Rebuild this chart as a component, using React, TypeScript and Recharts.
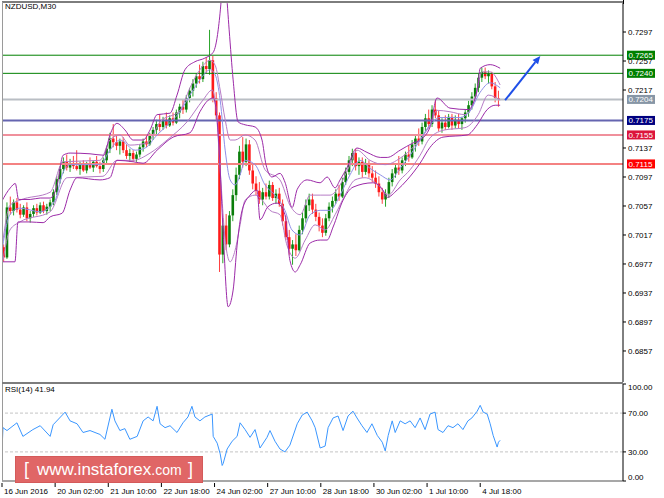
import { ComposedChart, Bar, Line, XAxis, YAxis, ReferenceLine } from "recharts";

// NZDUSD M30 candles, one slot each: [open, high, low, close]
const candles: [number, number, number, number][] = [
  [0.7000, 0.7004, 0.6980, 0.6986], [0.6986, 0.7062, 0.6984, 0.7055], [0.7055, 0.7070, 0.7045, 0.7050], [0.7050, 0.7066, 0.7044, 0.7062],
  [0.7062, 0.7068, 0.7048, 0.7052], [0.7052, 0.7060, 0.7040, 0.7045], [0.7045, 0.7058, 0.7042, 0.7055], [0.7055, 0.7062, 0.7036, 0.7040],
  [0.7040, 0.7050, 0.7034, 0.7046], [0.7046, 0.7058, 0.7042, 0.7054], [0.7054, 0.7060, 0.7044, 0.7048], [0.7048, 0.7062, 0.7046, 0.7058],
  [0.7058, 0.7063, 0.7047, 0.7050], [0.7050, 0.7060, 0.7045, 0.7056], [0.7056, 0.7066, 0.7050, 0.7062], [0.7062, 0.7080, 0.7058, 0.7076],
  [0.7076, 0.7098, 0.7072, 0.7094], [0.7094, 0.7112, 0.7088, 0.7108], [0.7108, 0.7124, 0.7102, 0.7118], [0.7118, 0.7128, 0.7106, 0.7110],
  [0.7110, 0.7122, 0.7104, 0.7116], [0.7116, 0.7126, 0.7108, 0.7112], [0.7112, 0.7134, 0.7106, 0.7108], [0.7108, 0.7118, 0.7100, 0.7114],
  [0.7114, 0.7120, 0.7104, 0.7106], [0.7106, 0.7118, 0.7102, 0.7115], [0.7115, 0.7124, 0.7108, 0.7110], [0.7110, 0.7120, 0.7104, 0.7118],
  [0.7118, 0.7126, 0.7110, 0.7112], [0.7112, 0.7118, 0.7102, 0.7108], [0.7108, 0.7124, 0.7104, 0.7120], [0.7120, 0.7140, 0.7116, 0.7136],
  [0.7136, 0.7158, 0.7130, 0.7150], [0.7150, 0.7170, 0.7138, 0.7145], [0.7145, 0.7156, 0.7134, 0.7140], [0.7140, 0.7150, 0.7128, 0.7146],
  [0.7146, 0.7152, 0.7130, 0.7134], [0.7134, 0.7142, 0.7122, 0.7126], [0.7126, 0.7136, 0.7118, 0.7130], [0.7130, 0.7134, 0.7118, 0.7122],
  [0.7122, 0.7132, 0.7118, 0.7128], [0.7128, 0.7142, 0.7124, 0.7138], [0.7138, 0.7150, 0.7132, 0.7146], [0.7146, 0.7156, 0.7138, 0.7142],
  [0.7142, 0.7158, 0.7140, 0.7154], [0.7154, 0.7166, 0.7148, 0.7162], [0.7162, 0.7176, 0.7156, 0.7170], [0.7170, 0.7184, 0.7160, 0.7166],
  [0.7166, 0.7180, 0.7162, 0.7176], [0.7176, 0.7186, 0.7164, 0.7168], [0.7168, 0.7182, 0.7166, 0.7178], [0.7178, 0.7186, 0.7168, 0.7172],
  [0.7172, 0.7190, 0.7170, 0.7186], [0.7186, 0.7198, 0.7178, 0.7194], [0.7194, 0.7204, 0.7184, 0.7190], [0.7190, 0.7210, 0.7186, 0.7206],
  [0.7206, 0.7220, 0.7200, 0.7216], [0.7216, 0.7232, 0.7208, 0.7226], [0.7226, 0.7240, 0.7220, 0.7236], [0.7236, 0.7252, 0.7226, 0.7232],
  [0.7232, 0.7256, 0.7228, 0.7250], [0.7250, 0.7262, 0.7240, 0.7246], [0.7246, 0.7300, 0.7238, 0.7258], [0.7258, 0.7264, 0.7200, 0.7206],
  [0.7206, 0.7214, 0.7176, 0.7182], [0.7182, 0.7186, 0.6966, 0.6990], [0.6990, 0.7040, 0.6978, 0.7030], [0.7030, 0.7046, 0.6996, 0.7004],
  [0.7004, 0.7050, 0.7000, 0.7044], [0.7044, 0.7080, 0.7036, 0.7072], [0.7072, 0.7110, 0.7064, 0.7100], [0.7100, 0.7140, 0.7094, 0.7132],
  [0.7132, 0.7152, 0.7110, 0.7118], [0.7118, 0.7150, 0.7112, 0.7142], [0.7142, 0.7148, 0.7100, 0.7106], [0.7106, 0.7116, 0.7080, 0.7088],
  [0.7088, 0.7098, 0.7072, 0.7078], [0.7078, 0.7090, 0.7060, 0.7066], [0.7066, 0.7082, 0.7058, 0.7076], [0.7076, 0.7088, 0.7066, 0.7070],
  [0.7070, 0.7092, 0.7066, 0.7086], [0.7086, 0.7090, 0.7064, 0.7068], [0.7068, 0.7080, 0.7060, 0.7074], [0.7074, 0.7082, 0.7056, 0.7060],
  [0.7060, 0.7066, 0.7030, 0.7036], [0.7036, 0.7044, 0.7010, 0.7014], [0.7014, 0.7024, 0.6990, 0.6998], [0.6998, 0.7010, 0.6976, 0.7004],
  [0.7004, 0.7018, 0.6988, 0.6996], [0.6996, 0.7030, 0.6994, 0.7024], [0.7024, 0.7048, 0.7018, 0.7040], [0.7040, 0.7066, 0.7034, 0.7058],
  [0.7058, 0.7074, 0.7050, 0.7066], [0.7066, 0.7074, 0.7046, 0.7052], [0.7052, 0.7060, 0.7036, 0.7042], [0.7042, 0.7048, 0.7022, 0.7030],
  [0.7030, 0.7040, 0.7014, 0.7020], [0.7020, 0.7046, 0.7016, 0.7040], [0.7040, 0.7062, 0.7036, 0.7056], [0.7056, 0.7070, 0.7048, 0.7064],
  [0.7064, 0.7080, 0.7060, 0.7074], [0.7074, 0.7086, 0.7064, 0.7070], [0.7070, 0.7096, 0.7068, 0.7090], [0.7090, 0.7110, 0.7086, 0.7104],
  [0.7104, 0.7126, 0.7100, 0.7120], [0.7120, 0.7136, 0.7112, 0.7130], [0.7130, 0.7136, 0.7106, 0.7112], [0.7112, 0.7124, 0.7100, 0.7118],
  [0.7118, 0.7124, 0.7096, 0.7104], [0.7104, 0.7122, 0.7100, 0.7116], [0.7116, 0.7120, 0.7096, 0.7102], [0.7102, 0.7112, 0.7090, 0.7096],
  [0.7096, 0.7106, 0.7082, 0.7088], [0.7088, 0.7098, 0.7070, 0.7076], [0.7076, 0.7082, 0.7060, 0.7066], [0.7066, 0.7080, 0.7056, 0.7074],
  [0.7074, 0.7096, 0.7068, 0.7090], [0.7090, 0.7108, 0.7084, 0.7102], [0.7102, 0.7116, 0.7096, 0.7110], [0.7110, 0.7126, 0.7100, 0.7106],
  [0.7106, 0.7124, 0.7102, 0.7120], [0.7120, 0.7132, 0.7112, 0.7128], [0.7128, 0.7140, 0.7118, 0.7124], [0.7124, 0.7148, 0.7122, 0.7142],
  [0.7142, 0.7156, 0.7132, 0.7150], [0.7150, 0.7164, 0.7140, 0.7146], [0.7146, 0.7172, 0.7142, 0.7166], [0.7166, 0.7184, 0.7160, 0.7178],
  [0.7178, 0.7190, 0.7164, 0.7170], [0.7170, 0.7196, 0.7166, 0.7190], [0.7190, 0.7204, 0.7178, 0.7182], [0.7182, 0.7188, 0.7160, 0.7164],
  [0.7164, 0.7178, 0.7158, 0.7172], [0.7172, 0.7182, 0.7162, 0.7166], [0.7166, 0.7184, 0.7164, 0.7180], [0.7180, 0.7184, 0.7162, 0.7168],
  [0.7168, 0.7182, 0.7164, 0.7176], [0.7176, 0.7184, 0.7164, 0.7170], [0.7170, 0.7180, 0.7162, 0.7178], [0.7178, 0.7190, 0.7172, 0.7186],
  [0.7186, 0.7202, 0.7180, 0.7196], [0.7196, 0.7214, 0.7190, 0.7208], [0.7208, 0.7226, 0.7202, 0.7220], [0.7220, 0.7240, 0.7214, 0.7234],
  [0.7234, 0.7248, 0.7228, 0.7242], [0.7242, 0.7248, 0.7232, 0.7236], [0.7236, 0.7244, 0.7226, 0.7240], [0.7240, 0.7242, 0.7218, 0.7222],
  [0.7222, 0.7228, 0.7200, 0.7206], [0.7206, 0.7216, 0.7194, 0.7204],
];

// outer Bollinger envelope: [slot, price]
const upperBand: [number, number][] = [
  [-0.5, 0.7064], [2, 0.7082], [3.5, 0.7088], [4.5, 0.7066], [8, 0.7066], [11, 0.7068], [14, 0.7068], [16.1, 0.7086],
  [17.9, 0.7127], [20, 0.7130], [26, 0.7129], [30.2, 0.7127], [32, 0.7155], [34.1, 0.7171], [36.5, 0.7162], [39, 0.7148],
  [42, 0.7148], [44.1, 0.7162], [46.2, 0.7183], [50.1, 0.7185], [52.2, 0.7210], [54.6, 0.7245], [57.6, 0.7256], [60.6, 0.7261],
  [63.1, 0.7269], [64.6, 0.7300], [65.5, 0.7341], [66.1, 0.7383], [67, 0.7355], [67.9, 0.7300], [69.1, 0.7231], [70.6, 0.7173],
  [72.7, 0.7169], [75.7, 0.7166], [77.8, 0.7148], [79, 0.7114], [80.8, 0.7097], [83.2, 0.7102], [84.7, 0.7090], [86.9, 0.7055],
  [88.4, 0.7080], [91.4, 0.7093], [95.3, 0.7089], [97.4, 0.7097], [99.8, 0.7082], [101.3, 0.7093], [103.4, 0.7110], [106.4, 0.7137],
  [109.4, 0.7131], [113.4, 0.7124], [115.5, 0.7124], [119.4, 0.7134], [123.3, 0.7144], [125.4, 0.7148], [128.4, 0.7166], [130.5, 0.7206],
  [134.4, 0.7192], [139.9, 0.7190], [142.6, 0.7217], [143.5, 0.7247], [146.5, 0.7252], [149.5, 0.7247],
];

const lowerBand: [number, number][] = [
  [-0.5, 0.6980], [3.4, 0.6980], [4.3, 0.7035], [7.9, 0.7035], [11.9, 0.7034], [14, 0.7042], [17.6, 0.7047], [20, 0.7079],
  [22.1, 0.7096], [29, 0.7093], [32, 0.7096], [34.1, 0.7120], [39, 0.7118], [42, 0.7116], [46.2, 0.7134], [51, 0.7152],
  [56.1, 0.7158], [59.1, 0.7187], [61.6, 0.7203], [63.1, 0.7206], [64, 0.7189], [64.9, 0.7134], [66.1, 0.7020], [67.6, 0.6918],
  [69.1, 0.6941], [70.3, 0.7003], [71.8, 0.7051], [74.2, 0.7072], [76.3, 0.7079], [77.2, 0.7038], [79.6, 0.7056], [82.3, 0.7061],
  [84.7, 0.7045], [86.2, 0.6982], [87.8, 0.6966], [89.3, 0.6976], [92.3, 0.7006], [95.3, 0.7010], [97.4, 0.7010], [99.2, 0.7028],
  [102.2, 0.7065], [105.2, 0.7083], [111.2, 0.7089], [114.2, 0.7079], [115.5, 0.7069], [118.5, 0.7079], [121.5, 0.7093], [125.4, 0.7116],
  [128.4, 0.7138], [132.3, 0.7152], [139.6, 0.7155], [142.6, 0.7169], [145.6, 0.7190], [148, 0.7196], [149.5, 0.7196],
];

// inner envelope (lighter lines)
const innerUpper: [number, number][] = [
  [-0.2, 0.7010], [1.9, 0.7058], [4.9, 0.7065], [14, 0.7076], [17.9, 0.7118], [29, 0.7120], [32, 0.7148], [35, 0.7155],
  [38, 0.7141], [43.2, 0.7144], [47.1, 0.7173], [53.1, 0.7189], [56.1, 0.7220], [59.1, 0.7245], [62.2, 0.7258], [63.7, 0.7251],
  [65.2, 0.7217], [66.7, 0.7176], [68.2, 0.7148], [69.7, 0.7148], [72.7, 0.7155], [75.7, 0.7148], [78.7, 0.7107], [83.2, 0.7093],
  [86.2, 0.7058], [89.3, 0.7045], [92.3, 0.7072], [95.3, 0.7072], [98.3, 0.7072], [101.3, 0.7086], [104.3, 0.7114], [106.4, 0.7134],
  [110.3, 0.7120], [114.9, 0.7114], [119.4, 0.7123], [123.9, 0.7141], [128.4, 0.7169], [130.5, 0.7189], [134.4, 0.7187], [138.9, 0.7183],
  [142, 0.7206], [144.1, 0.7242], [146.5, 0.7242], [149.5, 0.7224],
];

const innerLower: [number, number][] = [
  [-0.2, 0.6982], [1.9, 0.7024], [4.9, 0.7035], [14, 0.7049], [19.1, 0.7096], [29.9, 0.7098], [34.1, 0.7120], [39, 0.7120],
  [44.1, 0.7130], [49.2, 0.7148], [55.2, 0.7173], [60, 0.7203], [62.8, 0.7217], [64, 0.7189], [65.2, 0.7107], [66.7, 0.7010],
  [68.2, 0.6980], [69.7, 0.6996], [71.2, 0.7031], [72.7, 0.7065], [75.7, 0.7072], [77.8, 0.7065], [80.2, 0.7051], [83.2, 0.7045],
  [85.3, 0.7003], [87.8, 0.6985], [90.8, 0.7010], [93.8, 0.7031], [96.8, 0.7024], [99.8, 0.7045], [102.8, 0.7072], [105.8, 0.7093],
  [108.8, 0.7096], [112.8, 0.7086], [115.8, 0.7072], [119.4, 0.7093], [122.4, 0.7107], [125.4, 0.7127], [128.4, 0.7151], [132.9, 0.7162],
  [138.9, 0.7165], [142.9, 0.7183], [145.9, 0.7210], [149.5, 0.7203],
];

const midLine: [number, number][] = [
  [-0.5, 0.6996], [1.9, 0.7045], [4.9, 0.7054], [11, 0.7049], [15.5, 0.7065], [17.6, 0.7100], [20, 0.7114], [29, 0.7114],
  [32, 0.7134], [35, 0.7148], [39.6, 0.7134], [42.6, 0.7137], [46.2, 0.7155], [50.1, 0.7172], [53.1, 0.7187], [56.1, 0.7210],
  [59.1, 0.7231], [62.2, 0.7245], [63.7, 0.7238], [65.2, 0.7203], [66.7, 0.7134], [68.2, 0.7093], [69.7, 0.7086], [71.2, 0.7100],
  [72.7, 0.7120], [75.7, 0.7114], [78.7, 0.7086], [81.7, 0.7072], [84.7, 0.7051], [86.8, 0.7024], [89.3, 0.7017], [92.3, 0.7045],
  [95.3, 0.7051], [98.3, 0.7051], [101.3, 0.7072], [104.3, 0.7100], [107.3, 0.7120], [110.3, 0.7109], [113.4, 0.7100], [116.4, 0.7093],
  [119.4, 0.7109], [122.4, 0.7127], [125.4, 0.7148], [128.4, 0.7169], [131.4, 0.7179], [137.4, 0.7179], [140.3, 0.7187], [143.5, 0.7214],
  [146.5, 0.7227], [149.5, 0.7220],
];

// RSI(14): [slot, value]
const rsi: [number, number][] = [
  [-0.5, 31], [-0.2, 55], [1, 52], [4, 60], [5.8, 46], [8.8, 53], [11, 57], [14, 46], [14.9, 58], [18.5, 71], [20, 62],
  [22.1, 59], [23.9, 50], [26, 52], [29, 48], [30.5, 43], [32.6, 74], [33.5, 62], [35, 52], [36.5, 54], [38, 43], [40.2, 46],
  [42, 62], [43.5, 66], [45, 62], [46.2, 77], [47.1, 59], [48.6, 55], [50.1, 57], [52.2, 50], [54, 60], [55.5, 66], [56.7, 77],
  [57.6, 66], [59.1, 62], [60.6, 66], [62.8, 69], [63.1, 46], [64.3, 39], [65.2, 28], [65.8, 16], [66.1, 18], [67.3, 33],
  [68.8, 41], [70.3, 46], [71.2, 60], [72.7, 53], [74.2, 45], [75.7, 53], [77.2, 34], [79.3, 45], [80.2, 52], [81.7, 41],
  [83.2, 33], [84.7, 30], [86.2, 37], [88.4, 59], [89.9, 68], [91.4, 71], [92.9, 62], [93.8, 55], [95.3, 34], [96.8, 36],
  [97.7, 55], [99.2, 65], [100.7, 67], [102.2, 52], [103.7, 67], [105.2, 72], [106.4, 65], [107.9, 57], [109.4, 50], [110.9, 59],
  [112.5, 47], [114, 40], [114.9, 31], [115.8, 47], [117, 62], [117.9, 50], [119.4, 62], [120.9, 59], [122.4, 62], [123.9, 55],
  [125.4, 65], [126.9, 53], [128.4, 69], [129.9, 71], [130.8, 53], [132.3, 50], [133.8, 57], [135.3, 55], [136.8, 59], [138.3, 53],
  [139.8, 62], [141, 65], [142.6, 72], [143.5, 78], [144.4, 71], [145.6, 69], [146.5, 59], [147.4, 47], [148.6, 35], [149, 40],
  [149.5, 41.94],
];

const levels = [0.7265, 0.724, 0.7204, 0.7175, 0.7155, 0.7115];
const levelLine = ["#008000", "#008000", "#b9bec4", "#6565b0", "#f0909c", "#f48282"];
const levelBox = ["#008000", "#008000", "#8796a6", "#000080", "#dc143c", "#ff0000"];
const levelWidth = [1, 1, 2, 2, 2, 2];

const priceTicks = [0.6857, 0.6897, 0.6937, 0.6977, 0.7017, 0.7057, 0.7097, 0.7137, 0.7217, 0.7257, 0.7297];
const timeTicks = [-0.5, 15.5, 31.5, 47.5, 63.5, 79.5, 95.5, 111.5, 127.5, 143.5];
const timeLabels = ["16 Jun 2016", "20 Jun 02:00", "21 Jun 10:00", "22 Jun 18:00", "24 Jun 02:00", "27 Jun 10:00", "28 Jun 18:00", "30 Jun 02:00", "1 Jul 10:00", "4 Jul 18:00"];
const rsiTicks = [0, 30, 70, 100];

// forecast arrow, start and end in slot/price
const arrowFrom = { x: 151, y: 0.7203 };
const arrowTo = { x: 161.6, y: 0.7264 };

const FONT = "'Liberation Sans', Arial, sans-serif";
const X_DOMAIN: [number, number] = [-0.5, 186.5];

const candleData = candles.map(([o, h, l, c], i) => ({ s: i, range: [l, h], o, h, l, c }));
const toPts = (arr: [number, number][]) => arr.map(([s, v]) => ({ s, v }));

const Candle = (props: any) => {
  const { x, y, width, height, payload } = props;
  const { o, h, l, c } = payload;
  const cx = x + width / 2;
  const top = Math.min(y, y + height);
  const len = Math.abs(height);
  const ppu = h > l ? len / (h - l) : 0;
  const yo = top + (h - o) * ppu;
  const yc = top + (h - c) * ppu;
  const up = c >= o;
  const body = up ? "#0a7d0a" : "#ff1a1a";
  const wick = up ? "#2aa52a" : "#ff4040";
  return (
    <g>
      <line x1={cx} x2={cx} y1={top} y2={top + len} stroke={wick} strokeWidth={1} />
      <rect x={cx - 1.3} y={Math.min(yo, yc)} width={2.6} height={Math.max(1, Math.abs(yc - yo))} fill={body} />
    </g>
  );
};

const levelLabel = (i: number) => (props: any) => {
  const vb = props.viewBox;
  const x = vb.x + vb.width + 4;
  return (
    <g>
      <rect x={x} y={vb.y - 4.5} width={28} height={9} fill={levelBox[i]} />
      <text x={x + 1.5} y={vb.y + 3} fontSize={8} fontFamily={FONT} fill="#fff">
        {levels[i].toFixed(4)}
      </text>
    </g>
  );
};

const Arrow = (props: any) => {
  const { x1, y1, x2, y2 } = props;
  const a = Math.atan2(y2 - y1, x2 - x1);
  const L = 8;
  const W = 3.5;
  const bx = x2 - L * Math.cos(a);
  const by = y2 - L * Math.sin(a);
  const px = -Math.sin(a) * W;
  const py = Math.cos(a) * W;
  return (
    <g>
      <line x1={x1} y1={y1} x2={bx} y2={by} stroke="#1f4fe8" strokeWidth={2} />
      <polygon points={`${x2},${y2} ${bx + px},${by + py} ${bx - px},${by - py}`} fill="#1f4fe8" />
    </g>
  );
};

const TimeTick = (props: any) => {
  const { x, y, payload } = props;
  const idx = timeTicks.indexOf(payload.value);
  return (
    <g>
      <line x1={x} x2={x} y1={y} y2={y + 4} stroke="#000" />
      <text x={x + 2} y={y + 11} fontSize={8} fontFamily={FONT} fill="#000" textAnchor="start">
        {timeLabels[idx]}
      </text>
    </g>
  );
};

const RsiTick = (props: any) => {
  const { x, y, payload } = props;
  const v = payload.value;
  const shift = v === 100 ? 3 : v === 0 ? -4 : 0;
  return (
    <text x={x} y={y + shift + 3} fontSize={8} fontFamily={FONT} fill="#000" textAnchor="start">
      {v.toFixed(2)}
    </text>
  );
};

const bandLine = (pts: [number, number][], color: string, key: string) => (
  <Line key={key} data={toPts(pts)} dataKey="v" type="monotone" stroke={color} strokeWidth={1} dot={false} isAnimationActive={false} />
);

export default function App() {
  const last = rsi[rsi.length - 1][1];
  return (
    <div style={{ position: "absolute", left: 0, top: 0, width: 664, height: 498, background: "#fff", overflow: "hidden" }}>
      <div style={{ position: "absolute", left: 0, top: 0 }}>
        <ComposedChart width={664} height={384} data={candleData} margin={{ top: 2, right: 0, bottom: 2, left: 2 }}>
          <XAxis dataKey="s" type="number" domain={X_DOMAIN} allowDataOverflow hide />
          <YAxis
            orientation="right"
            width={41}
            type="number"
            domain={[0.68142, 0.73384]}
            allowDataOverflow
            ticks={priceTicks}
            tickFormatter={(v: number) => v.toFixed(4)}
            tick={{ fontSize: 8, fill: "#000", fontFamily: FONT }}
            tickSize={3}
            tickMargin={2}
            axisLine={{ stroke: "#000" }}
            tickLine={{ stroke: "#000" }}
          />
          {levels.map((v, i) => (
            <ReferenceLine key={v} y={v} stroke={levelLine[i]} strokeWidth={levelWidth[i]} label={levelLabel(i)} />
          ))}
          {bandLine(innerUpper, "#b67cc6", "iu")}
          {bandLine(innerLower, "#b67cc6", "il")}
          {bandLine(upperBand, "#9c2aa8", "ou")}
          {bandLine(lowerBand, "#9c2aa8", "ol")}
          {bandLine(midLine, "#8f8fe8", "mid")}
          <Bar dataKey="range" barSize={2} shape={<Candle />} isAnimationActive={false} />
          <ReferenceLine
            segment={[arrowFrom, arrowTo]}
            shape={(p: any) => <Arrow {...p} />}
            ifOverflow="visible"
          />
        </ComposedChart>
      </div>

      <div style={{ position: "absolute", left: 0, top: 383 }}>
        <ComposedChart width={664} height={115} data={toPts(rsi)} margin={{ top: 1, right: 0, bottom: 0, left: 2 }}>
          <XAxis
            dataKey="s"
            type="number"
            domain={X_DOMAIN}
            allowDataOverflow
            ticks={timeTicks}
            height={17}
            tick={<TimeTick />}
            tickLine={false}
            tickSize={0}
            axisLine={{ stroke: "#8a8a8a", strokeWidth: 1.5 }}
            interval={0}
          />
          <YAxis
            orientation="right"
            width={41}
            type="number"
            domain={[0, 100]}
            ticks={rsiTicks}
            tick={<RsiTick />}
            tickSize={3}
            tickMargin={2}
            axisLine={{ stroke: "#000" }}
            tickLine={{ stroke: "#000" }}
            interval={0}
          />
          <ReferenceLine y={70} stroke="#c4c4c4" strokeDasharray="3 2" />
          <ReferenceLine y={30} stroke="#c4c4c4" strokeDasharray="3 2" />
          <Line dataKey="v" type="linear" stroke="#3a96ff" strokeWidth={1} dot={false} isAnimationActive={false} />
        </ComposedChart>
      </div>

      {/* panel frames */}
      <div style={{ position: "absolute", left: 2, top: 1, width: 621, height: 2, background: "#7d7d7d" }} />
      <div style={{ position: "absolute", left: 2, top: 2, width: 1, height: 479, background: "#9a9a9a" }} />
      <div style={{ position: "absolute", left: 2, top: 382, width: 621, height: 2, background: "#7d7d7d" }} />
      <div style={{ position: "absolute", left: 623, top: 0, width: 1, height: 4, background: "#000" }} />

      <div style={{ position: "absolute", left: 5, top: 2, fontSize: 8, fontFamily: FONT, color: "#000", lineHeight: "10px" }}>NZDUSD,M30</div>
      <div style={{ position: "absolute", left: 5, top: 385, fontSize: 8, fontFamily: FONT, color: "#000", lineHeight: "10px" }}>
        RSI(14) {last.toFixed(2)}
      </div>

      {/* watermark */}
      <div
        style={{
          position: "absolute",
          left: 15,
          top: 456,
          width: 188,
          height: 27,
          background: "#e06666",
          boxShadow: "inset 0 0 0 1px #d45a5a",
          color: "#fff",
          fontFamily: FONT,
        }}
      >
        <span style={{ position: "absolute", left: 9, top: 3, fontSize: 18 }}>[</span>
        <span style={{ position: "absolute", left: 22, top: 4, fontSize: 17 }}>
          www.instaforex<span style={{ fontSize: 14 }}>.com</span>
        </span>
        <span style={{ position: "absolute", left: 173, top: 3, fontSize: 18 }}>]</span>
      </div>
    </div>
  );
}
